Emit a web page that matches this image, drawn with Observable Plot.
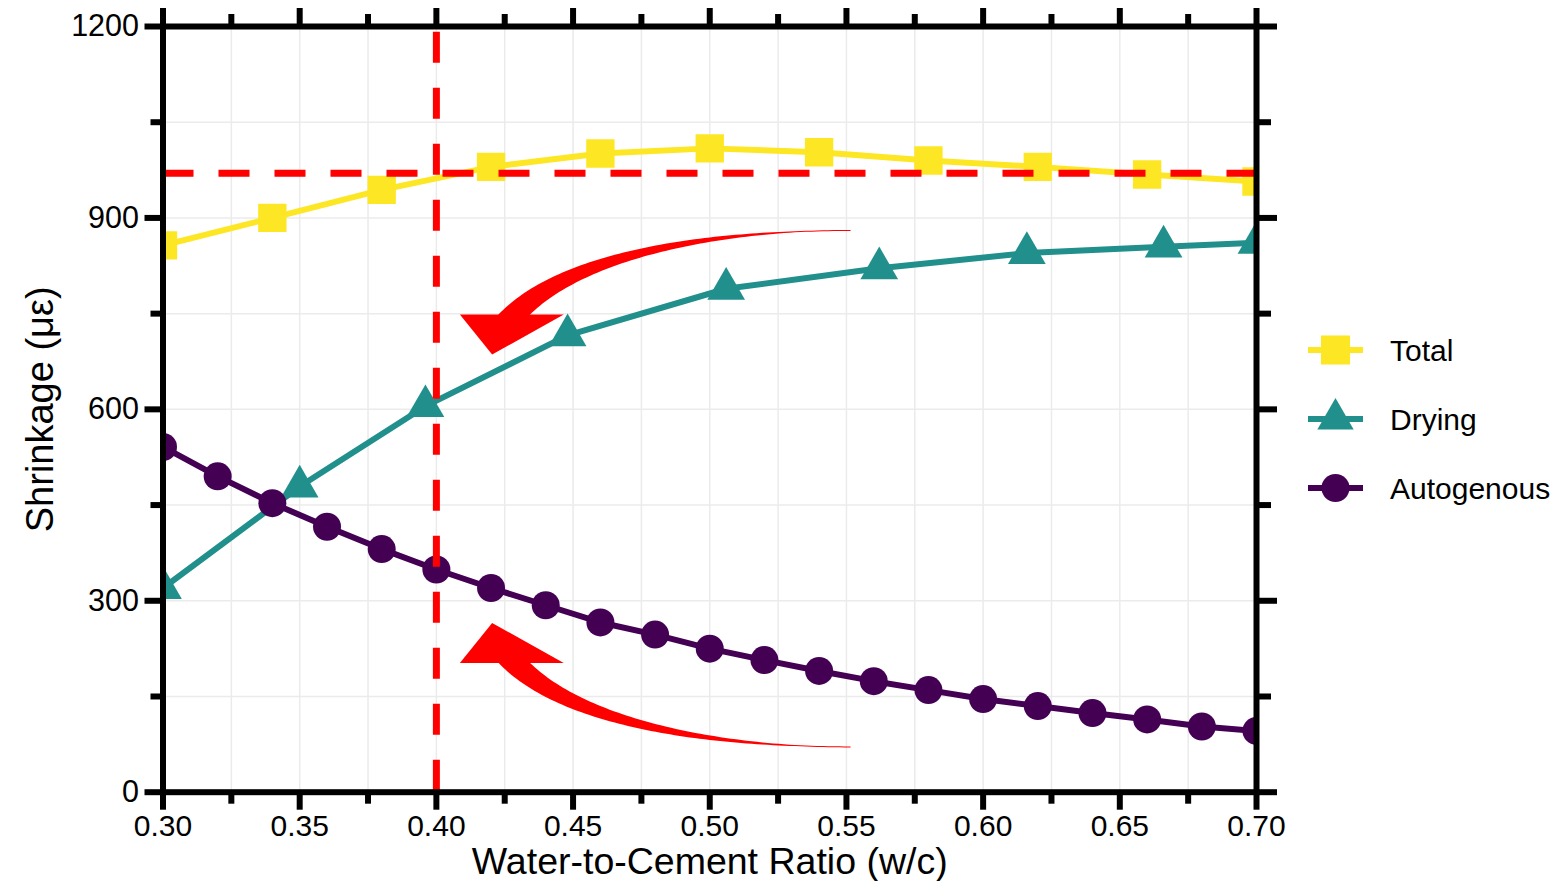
<!DOCTYPE html>
<html><head><meta charset="utf-8">
<script src="https://cdn.jsdelivr.net/npm/d3@7"></script>
<script src="https://cdn.jsdelivr.net/npm/@observablehq/plot@0.6"></script>
<style>
body{margin:0;background:#fff;font-family:"Liberation Sans",Arial,Helvetica,sans-serif;}
#wrap{position:relative;width:1567px;height:881px;overflow:hidden;}
#legend{position:absolute;left:1290px;top:310px;}
</style></head><body><div id="wrap"></div>
<script>
// ---- data ----
const seriesNames = ["Total", "Drying", "Autogenous"];
const seriesColors = ["#FDE725", "#21908C", "#440154"];
const seriesSymbols = ["square", "triangle", "circle"];

const totalWC = [0.30, 0.34, 0.38, 0.42, 0.46, 0.50, 0.54, 0.58, 0.62, 0.66, 0.70];
const totalVal = [857, 900, 944, 980, 1001, 1009, 1003, 990, 980, 968, 957];

const dryingWC = [0.30, 0.35, 0.396, 0.448, 0.506, 0.562, 0.616, 0.666, 0.70];
const dryingVal = [320, 479, 605, 716, 789, 821, 845, 855, 861];

const autoWC = [0.30, 0.32, 0.34, 0.36, 0.38, 0.40, 0.42, 0.44, 0.46, 0.48, 0.50,
                0.52, 0.54, 0.56, 0.58, 0.60, 0.62, 0.64, 0.66, 0.68, 0.70];
const autoVal = [541, 495, 453, 416, 381, 349, 320, 293, 266, 247, 225,
                 207, 190, 174, 160, 146, 135, 124, 114, 103, 96];

const refWC = [0.40];
const refShrink = [970];

const xMajor = [0.30, 0.35, 0.40, 0.45, 0.50, 0.55, 0.60, 0.65, 0.70];
const xMinor = [0.325, 0.375, 0.425, 0.475, 0.525, 0.575, 0.625, 0.675];
const yMajor = [0, 300, 600, 900, 1200];
const yMinor = [150, 450, 750, 1050];

// annotation arrows (data units): tail cubic bezier [end, c1, c2, base], head triangle
const arrowUpTail = [[0.5515, 880.3], [0.4966, 880.3], [0.4454, 836.4], [0.4260, 736.1]];
const arrowUpHead = [[0.4086, 748.6], [0.4204, 686.0], [0.4466, 748.6]];
const arrowLowTail = [[0.5515, 71.0], [0.4966, 71.0], [0.4454, 114.9], [0.4260, 215.2]];
const arrowLowHead = [[0.4086, 202.6], [0.4204, 265.3], [0.4466, 202.6]];

const xTitle = "Water-to-Cement Ratio (w/c)";
const yTitle = "Shrinkage (με)";

// ---- layout ----
const W = 1567, H = 881, ML = 162.5, MR = 311, MT = 26, MB = 89.3;
const FONT = '"Liberation Sans", Arial, Helvetica, sans-serif';

const rows = (xs, vs, name) => xs.map((x, i) => ({wc: x, v: vs[i], series: name}));
const totalRows = rows(totalWC, totalVal, seriesNames[0]);
const dryingRows = rows(dryingWC, dryingVal, seriesNames[1]);
const autoRows = rows(autoWC, autoVal, seriesNames[2]);

const sx = d3.scaleLinear([0.3, 0.7], [ML, W - MR]);
const sy = d3.scaleLinear([0, 1200], [H - MB, MT]);

function taper(ctrl, wMax) {
  const P = ctrl.map(([x, y]) => [sx(x), sy(y)]);
  const N = 80, L = [], R = [];
  for (let i = 0; i <= N; i++) {
    const t = i / N, u = 1 - t;
    const b = [0, 1].map(k => u*u*u*P[0][k] + 3*u*u*t*P[1][k] + 3*u*t*t*P[2][k] + t*t*t*P[3][k]);
    const d = [0, 1].map(k => 3*u*u*(P[1][k]-P[0][k]) + 6*u*t*(P[2][k]-P[1][k]) + 3*t*t*(P[3][k]-P[2][k]));
    const len = Math.hypot(d[0], d[1]) || 1;
    const n = [-d[1]/len, d[0]/len];
    const w = Math.max(1, wMax * Math.pow(t, 1.5)) / 2;
    L.push([b[0] + n[0]*w, b[1] + n[1]*w]);
    R.push([b[0] - n[0]*w, b[1] - n[1]*w]);
  }
  return L.concat(R.reverse()).map(([px, py]) => [sx.invert(px), sy.invert(py)]);
}
const upTailPoly = taper(arrowUpTail, 24);
const lowTailPoly = taper(arrowLowTail, 24);

const RED = "#ff0000";
const seriesMarks = [[totalRows, 0, 16], [dryingRows, 1, 14], [autoRows, 2, 14]].flatMap(([data, i, r]) => [
  Plot.line(data, {x: "wc", y: "v", stroke: seriesColors[i], strokeWidth: 6, clip: true}),
  Plot.dot(data, {x: "wc", y: "v", symbol: seriesSymbols[i], r, fill: seriesColors[i], stroke: "none", clip: true})
]);

const chart = Plot.plot({
  width: W, height: H,
  marginLeft: ML, marginRight: MR, marginTop: MT, marginBottom: MB,
  x: {domain: [0.3, 0.7], axis: null},
  y: {domain: [0, 1200], axis: null},
  style: {fontFamily: FONT, background: "white", color: "black", overflow: "visible"},
  marks: [
    Plot.gridX({ticks: xMajor.concat(xMinor), stroke: "#ebebeb", strokeOpacity: 1, strokeWidth: 1.5}),
    Plot.gridY({ticks: yMajor.concat(yMinor), stroke: "#ebebeb", strokeOpacity: 1, strokeWidth: 1.5}),
    Plot.line(upTailPoly, {x: d => d[0], y: d => d[1], fill: RED, stroke: "none"}),
    Plot.line(arrowUpHead, {x: d => d[0], y: d => d[1], fill: RED, stroke: "none"}),
    Plot.line(lowTailPoly, {x: d => d[0], y: d => d[1], fill: RED, stroke: "none"}),
    Plot.line(arrowLowHead, {x: d => d[0], y: d => d[1], fill: RED, stroke: "none"}),
    ...seriesMarks,
    Plot.ruleY(refShrink, {x1: 0.3, x2: 0.7, stroke: RED, strokeWidth: 7, strokeDasharray: "31,25"}),
    Plot.ruleX(refWC, {y1: 1200, y2: 0, stroke: RED, strokeWidth: 7, strokeDasharray: "31,25", strokeDashoffset: 50.3}),
    Plot.frame({stroke: "black", strokeWidth: 6}),
    Plot.axisX({ticks: xMajor, tickSize: 18, tickPadding: 4, strokeWidth: 6, tickFormat: d => d.toFixed(2), fontSize: 30, label: null}),
    Plot.axisX({ticks: xMinor, tickSize: 12, strokeWidth: 6, tickFormat: () => "", label: null}),
    Plot.axisX({anchor: "top", ticks: xMajor, tickSize: 19, strokeWidth: 6, tickFormat: () => "", label: null}),
    Plot.axisX({anchor: "top", ticks: xMinor, tickSize: 13, strokeWidth: 6, tickFormat: () => "", label: null}),
    Plot.axisY({ticks: yMajor, tickSize: 18, tickPadding: 6, strokeWidth: 6, tickFormat: d => String(d), fontSize: 30.5, label: null}),
    Plot.axisY({ticks: yMinor, tickSize: 12, strokeWidth: 6, tickFormat: () => "", label: null}),
    Plot.axisY({anchor: "right", ticks: yMajor, tickSize: 20, strokeWidth: 6, tickFormat: () => "", label: null}),
    Plot.axisY({anchor: "right", ticks: yMinor, tickSize: 14, strokeWidth: 6, tickFormat: () => "", label: null}),
    Plot.text([xTitle], {text: d => d, frameAnchor: "bottom", textAnchor: "middle", lineAnchor: "middle", dy: 69.5, fontSize: 37.5}),
    Plot.text([yTitle], {text: d => d, frameAnchor: "left", textAnchor: "middle", lineAnchor: "middle", dx: -122.5, rotate: -90, fontSize: 38})
  ]
});
const wrap = document.getElementById("wrap");
wrap.appendChild(chart);

// ---- legend (HTML/SVG beside the plot) ----
const leg = d3.select(wrap).append("svg").attr("id", "legend")
  .attr("width", 277).attr("height", 220)
  .style("font-family", FONT);
const legR = [16.4, 13.5, 14];
seriesNames.forEach((name, i) => {
  const cy = 40 + i * 69;
  const g = leg.append("g");
  g.append("line").attr("x1", 18).attr("x2", 73).attr("y1", cy).attr("y2", cy)
    .attr("stroke", seriesColors[i]).attr("stroke-width", 6);
  const sym = {square: d3.symbolSquare, triangle: d3.symbolTriangle, circle: d3.symbolCircle}[seriesSymbols[i]];
  g.append("path").attr("transform", `translate(45.5,${cy})`)
    .attr("d", d3.symbol(sym, Math.PI * legR[i] * legR[i])())
    .attr("fill", seriesColors[i]);
  g.append("text").attr("x", 100).attr("y", cy + 11).attr("font-size", 30).attr("fill", "black").text(name);
});
</script>
</body></html>
